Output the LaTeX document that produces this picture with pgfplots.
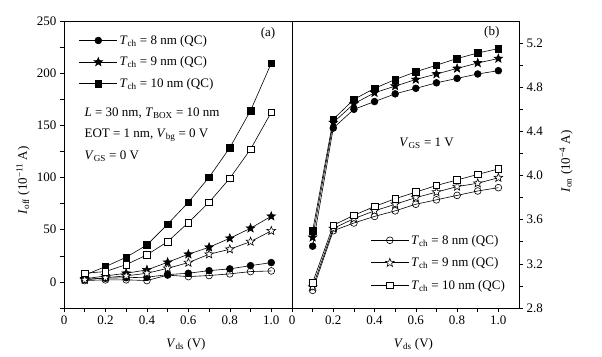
\documentclass[border=0pt]{standalone}
\usepackage{fontspec}
\setmainfont{Liberation Serif}
\usepackage{pgfplots}
\pgfplotsset{compat=1.18}
\newcommand{\vs}[2]{\textit{#1}\textsubscript{#2}}
\newcommand{\fs}{\fontsize{13}{15}\selectfont}
\pgfdeclareplotmark{ostar}{%
  \pgfpathmoveto{\pgfqpointpolar{90}{\pgfplotmarksize}}%
  \pgfpathlineto{\pgfqpointpolar{126}{0.42\pgfplotmarksize}}%
  \pgfpathlineto{\pgfqpointpolar{162}{\pgfplotmarksize}}%
  \pgfpathlineto{\pgfqpointpolar{198}{0.42\pgfplotmarksize}}%
  \pgfpathlineto{\pgfqpointpolar{234}{\pgfplotmarksize}}%
  \pgfpathlineto{\pgfqpointpolar{270}{0.42\pgfplotmarksize}}%
  \pgfpathlineto{\pgfqpointpolar{306}{\pgfplotmarksize}}%
  \pgfpathlineto{\pgfqpointpolar{342}{0.42\pgfplotmarksize}}%
  \pgfpathlineto{\pgfqpointpolar{18}{\pgfplotmarksize}}%
  \pgfpathlineto{\pgfqpointpolar{54}{0.42\pgfplotmarksize}}%
  \pgfpathclose\pgfusepathqfillstroke}
\pgfplotsset{
  base/.style={
    scale only axis, width=227pt, height=287pt,
    xmin=0, xmax=1.1,
    xtick={0,0.2,0.4,0.6,0.8,1.0},
    xticklabels={0,0.2,0.4,0.6,0.8,1.0},
    minor xtick={0.1,0.3,0.5,0.7,0.9},
    tick align=outside, xtick pos=bottom,
    major tick length=4pt, minor tick length=4pt,
    tick style={black, line width=0.6pt},
    axis line style={line width=0.7pt},
    /pgf/number format/assume math mode=true,
    every tick label/.append style={font=\fs},
    xlabel={\vs{V}{ds} (V)},
    every axis x label/.style={at={(rel axis cs:0.5,0)}, xshift=8pt, yshift=-36pt, anchor=center, font=\fs},
    legend cell align=left,
    legend style={draw=none, fill=none, font=\fs, inner sep=0pt, row sep=7pt},
    legend image code/.code={\draw[mark repeat=2,mark phase=2] plot coordinates {(0pt,0pt)(19pt,0pt)(38pt,0pt)};},
    every axis plot/.append style={black, line width=0.6pt, mark options={solid, line width=0.6pt}},
  },
  fc/.style={mark=*, mark size=3.4pt, mark options={fill=black}},
  fs/.style={mark=square*, mark size=3.3pt, mark options={fill=black}},
  oc/.style={mark=o, mark size=3.4pt, mark options={fill=white}},
  os/.style={mark=square*, mark size=3.3pt, mark options={fill=white}},
  ft/.style={mark=ostar, mark size=4.5pt, mark options={fill=black}},
  ot/.style={mark=ostar, mark size=4.5pt, mark options={fill=white}},
}
\begin{document}
\begin{tikzpicture}
\useasboundingbox (0pt,0pt) rectangle (602pt,356pt);
% Left panel
\begin{axis}[base, at={(64pt,48pt)}, anchor=south west, width=228pt,
  ymin=-25, ymax=250, ytick={0,50,...,250}, minor ytick={-25,25,75,125,175,225},
  ytick pos=left,
  ylabel={\vs{I}{off} (10\textsuperscript{−11} A)},
  every axis y label/.style={at={(rel axis cs:0,0.5)}, xshift=-41pt, yshift=-16pt, rotate=90, anchor=center, font=\fs},
  legend style={at={(rel axis cs:0.065,0.958)}, anchor=north west},
]
\addplot[fc] coordinates {(0.1,2.5)(0.2,3.5)(0.3,4)(0.4,4.5)(0.5,7)(0.6,8.3)(0.7,10.8)(0.8,12.5)(0.9,15.6)(1.0,18.5)};
\addlegendentry{\vs{T}{ch} = 8 nm (QC)}
\addplot[ft] coordinates {(0.1,3)(0.2,5.7)(0.3,8.3)(0.4,11.5)(0.5,18.8)(0.6,26.5)(0.7,33.2)(0.8,41.8)(0.9,51.4)(1.0,62.9)};
\addlegendentry{\vs{T}{ch} = 9 nm (QC)}
\addplot[fs] coordinates {(0.1,6.5)(0.2,14.7)(0.3,23.6)(0.4,35.4)(0.5,55.3)(0.6,76.3)(0.7,100.3)(0.8,128.6)(0.9,164.1)(1.0,209.5)};
\addlegendentry{\vs{T}{ch} = 10 nm (QC)}
\addplot[oc] coordinates {(0.1,1.3)(0.2,2)(0.3,2)(0.4,1.3)(0.5,6.5)(0.6,5.1)(0.7,6.1)(0.8,7.7)(0.9,9.9)(1.0,10.5)};
\addplot[ot] coordinates {(0.1,2)(0.2,4)(0.3,5.8)(0.4,8.3)(0.5,13)(0.6,18.5)(0.7,26.5)(0.8,31.3)(0.9,38.6)(1.0,48.9)};
\addplot[os] coordinates {(0.1,8.3)(0.2,9.9)(0.3,16.6)(0.4,25.9)(0.5,38.6)(0.6,56.8)(0.7,76.3)(0.8,99.3)(0.9,127.1)(1.0,162.5)};
\node[font=\fs] at (rel axis cs:0.895,0.958) {(a)};
\node[font=\fs, anchor=west] at (rel axis cs:0.075,0.679) {\textit{L} = 30 nm, \vs{T}{BOX} = 10 nm};
\node[font=\fs, anchor=west] at (rel axis cs:0.075,0.603) {EOT = 1 nm, \vs{V}{bg} = 0 V};
\node[font=\fs, anchor=west] at (rel axis cs:0.075,0.530) {\vs{V}{GS} = 0 V};
\end{axis}
% Right panel
\begin{axis}[base, at={(292pt,48pt)}, anchor=south west,
  ymin=2.8, ymax=5.4, ytick={2.8,3.2,3.6,4.0,4.4,4.8,5.2}, minor ytick={3.0,3.4,3.8,4.2,4.6,5.0},
  yticklabel style={/pgf/number format/.cd, fixed, fixed zerofill, precision=1},
  ytick pos=right, yticklabel pos=right,
  ylabel={\vs{I}{on} (10\textsuperscript{−4} A)},
  every axis y label/.style={at={(rel axis cs:1,0.5)}, xshift=47pt, yshift=3pt, rotate=90, anchor=center, font=\fs},
  legend style={at={(rel axis cs:0.345,0.262)}, anchor=north west, row sep=8pt},
]
\addplot[oc] coordinates {(0.1,2.96)(0.2,3.50)(0.3,3.57)(0.4,3.63)(0.5,3.68)(0.6,3.74)(0.7,3.78)(0.8,3.82)(0.9,3.86)(1.0,3.89)};
\addlegendentry{\vs{T}{ch} = 8 nm (QC)}
\addplot[ot] coordinates {(0.1,2.99)(0.2,3.52)(0.3,3.61)(0.4,3.68)(0.5,3.74)(0.6,3.80)(0.7,3.85)(0.8,3.90)(0.9,3.93)(1.0,3.98)};
\addlegendentry{\vs{T}{ch} = 9 nm (QC)}
\addplot[os] coordinates {(0.1,3.03)(0.2,3.55)(0.3,3.64)(0.4,3.72)(0.5,3.79)(0.6,3.85)(0.7,3.91)(0.8,3.96)(0.9,4.01)(1.0,4.06)};
\addlegendentry{\vs{T}{ch} = 10 nm (QC)}
\addplot[fc] coordinates {(0.1,3.36)(0.2,4.43)(0.3,4.60)(0.4,4.67)(0.5,4.74)(0.6,4.79)(0.7,4.84)(0.8,4.88)(0.9,4.92)(1.0,4.95)};
\addplot[ft] coordinates {(0.1,3.44)(0.2,4.48)(0.3,4.65)(0.4,4.75)(0.5,4.81)(0.6,4.87)(0.7,4.92)(0.8,4.97)(0.9,5.02)(1.0,5.06)};
\addplot[fs] coordinates {(0.1,3.50)(0.2,4.51)(0.3,4.69)(0.4,4.79)(0.5,4.87)(0.6,4.94)(0.7,5.00)(0.8,5.06)(0.9,5.11)(1.0,5.15)};
\node[font=\fs] at (rel axis cs:0.880,0.962) {(b)};
\node[font=\fs] at (rel axis cs:0.593,0.574) {\vs{V}{GS} = 1 V};
\end{axis}
\end{tikzpicture}
\end{document}
